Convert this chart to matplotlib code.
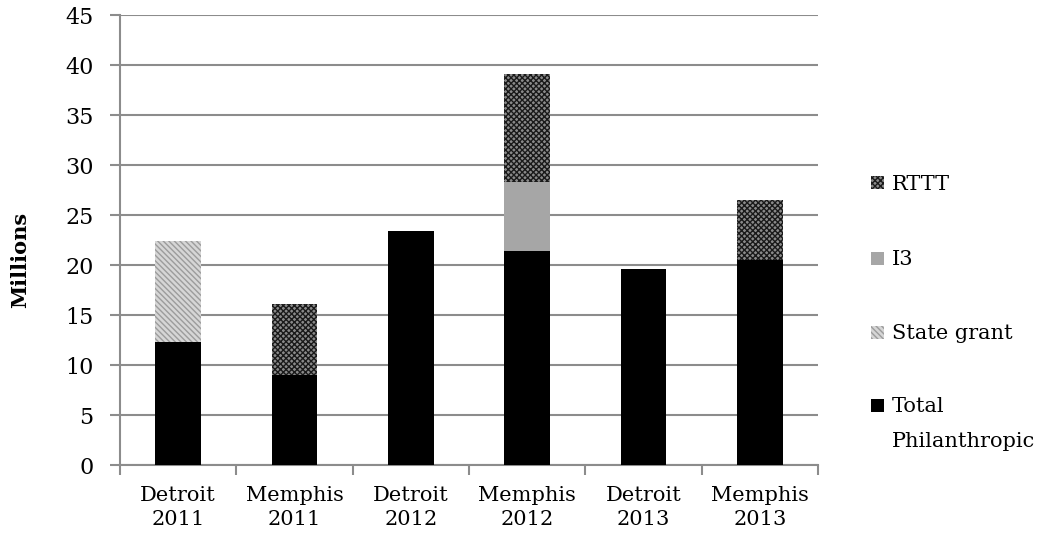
import numpy as np
import matplotlib.pyplot as plt
import matplotlib as mpl
from matplotlib.patches import Rectangle

# funding by city and year, in millions
categories = ['Detroit\n2011', 'Memphis\n2011', 'Detroit\n2012',
              'Memphis\n2012', 'Detroit\n2013', 'Memphis\n2013']
philanthropic = [12.3, 9.0, 23.4, 21.4, 19.6, 20.5]
state_grant = [10.1, 0.0, 0.0, 0.0, 0.0, 0.0]
i3 = [0.0, 0.0, 0.0, 6.9, 0.0, 0.0]
rttt = [0.0, 7.1, 0.0, 10.8, 0.0, 6.0]

mpl.rcParams['font.family'] = ['DejaVu Serif']
mpl.rcParams['hatch.linewidth'] = 1.0

W, H = 1049, 538
fig = plt.figure(figsize=(W / 100, H / 100), dpi=100)
ax = fig.add_axes([120 / W, 1 - 465 / H, 698 / W, 450 / H])

styles = {
    'Total\nPhilanthropic': dict(facecolor='black', edgecolor='black'),
    'State grant': dict(facecolor='#d6d6d6', edgecolor='#9c9c9c',
                        hatch='\\\\\\\\\\\\'),
    'I3': dict(facecolor='#a6a6a6', edgecolor='#a6a6a6'),
    'RTTT': dict(facecolor='#8a8a8a', edgecolor='#1a1a1a', hatch='xxxxxx'),
}
series = [('Total\nPhilanthropic', philanthropic), ('State grant', state_grant),
          ('I3', i3), ('RTTT', rttt)]

x = np.arange(len(categories))
w = 0.39
bottom = np.zeros(len(categories))
for name, vals in series:
    ax.bar(x, vals, w, bottom=bottom, linewidth=0, zorder=3, **styles[name])
    bottom += vals

ax.set_xlim(-0.5, len(categories) - 0.5)
ax.set_ylim(0, 45)
ax.set_yticks(np.arange(0, 46, 5))
ax.yaxis.grid(True, color='#8c8c8c', linewidth=1.5, zorder=0)
ax.set_axisbelow(True)

ax.set_xticks(x)
ax.set_xticklabels(categories, fontsize=15, linespacing=1.35)
ax.set_xticks(np.arange(-0.5, len(categories)), minor=True)
ax.tick_params(axis='x', which='major', length=0, pad=15)
ax.tick_params(axis='x', which='minor', length=7, width=1.5, color='#8c8c8c')
ax.tick_params(axis='y', length=7, width=1.5, color='#8c8c8c',
               labelsize=16, pad=12)

for side in ['top', 'right']:
    ax.spines[side].set_visible(False)
for side in ['left', 'bottom']:
    ax.spines[side].set_color('#8c8c8c')
    ax.spines[side].set_linewidth(1.5)

fig.text(20 / W, 1 - 260 / H, 'Millions', rotation=90, fontsize=15,
         fontweight='bold', ha='center', va='center')

# legend on the right, top to bottom
legend_rows = [('RTTT', 183), ('I3', 258), ('State grant', 332),
               ('Total\nPhilanthropic', 405)]
sq = 13
for name, yc in legend_rows:
    fig.patches.append(Rectangle((871 / W, 1 - (yc + sq / 2) / H), sq / W, sq / H,
                                 transform=fig.transFigure, linewidth=0,
                                 **styles[name]))
    fig.text(892 / W, 1 - (yc - 8) / H, name, fontsize=15, ha='left',
             va='top', linespacing=2.05)

fig.savefig('out.png', dpi=100)
